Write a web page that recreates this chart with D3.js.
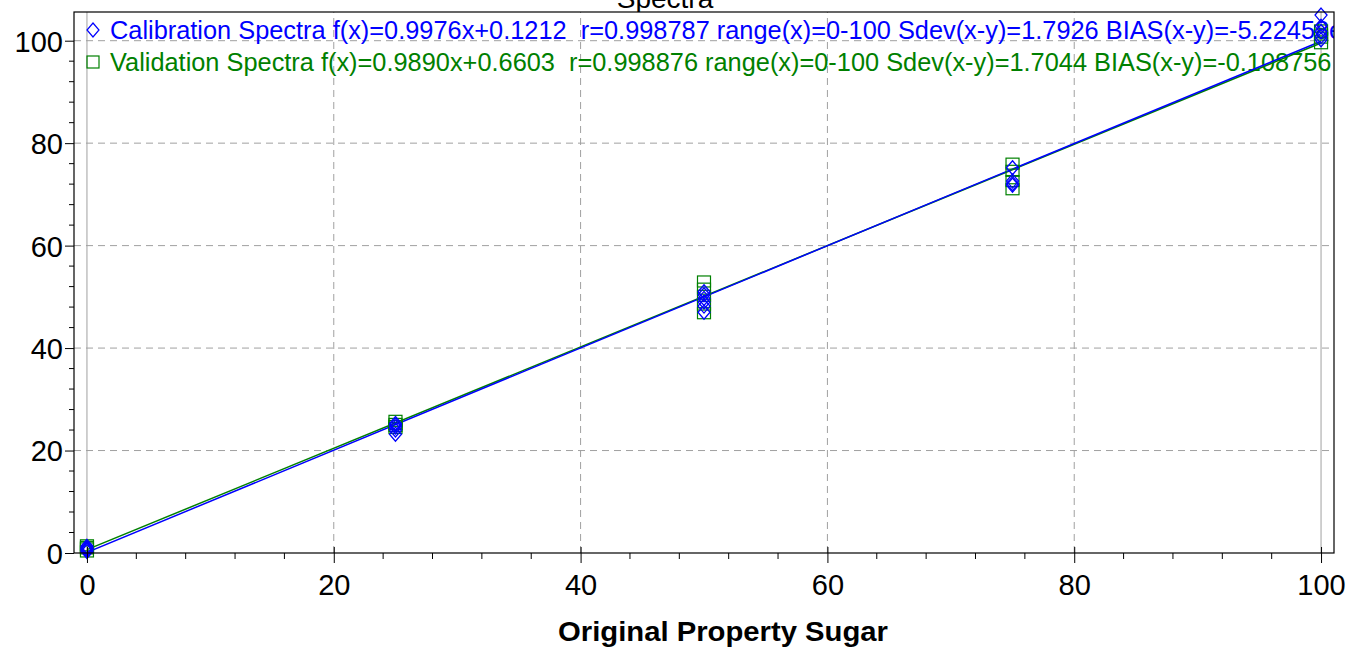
<!DOCTYPE html>
<html>
<head>
<meta charset="utf-8">
<script src="https://cdn.jsdelivr.net/npm/d3@7"></script>
<style>
  html, body { margin: 0; padding: 0; background: #fff; }
  svg { display: block; font-family: "Liberation Sans", Arial, sans-serif; }
  .ltext text { white-space: pre; }
</style>
</head>
<body>
<div id="chart"></div>
<script>
// reference levels (x) and the predicted values
const levels = [0, 25, 50, 75, 100];
const calibY = [
  [0.3, 0.7, 1.0, 1.3, 0.6, 0.9],
  [23.2, 24.0, 24.6, 25.0, 25.3],
  [47.0, 48.2, 49.0, 49.7, 50.4, 51.0],
  [75.2, 72.6, 71.8, 72.1],
  [105.0, 102.8, 101.8, 100.8, 100.2]
];
const validY = [
  [1.5, 0.9, 0.3, 1.2],
  [25.8, 25.2, 24.8, 24.4],
  [53.0, 51.6, 50.2, 48.5, 46.8],
  [76.0, 74.6, 71.0, 72.6],
  [102.0, 100.6, 99.5, 101.2]
];
const fits = [
  { name: "Calibration Spectra", slope: 0.9976, icept: 0.1212, color: "#0000ff",
    stats: "f(x)=0.9976x+0.1212  r=0.998787 range(x)=0-100 Sdev(x-y)=1.7926 BIAS(x-y)=-5.22458e-015", shape: "diamond" },
  { name: "Validation Spectra", slope: 0.9890, icept: 0.6603, color: "#008000",
    stats: "f(x)=0.9890x+0.6603  r=0.998876 range(x)=0-100 Sdev(x-y)=1.7044 BIAS(x-y)=-0.108756", shape: "square" }
];
const majorTicks = [0, 20, 40, 60, 80, 100];
const title = "Spectra";
const xTitle = "Original Property Sugar";

const width = 1349, height = 648;
const margin = { top: 12, right: 15, bottom: 95, left: 74 };

const svg = d3.select("#chart").append("svg")
  .attr("width", width).attr("height", height)
  .attr("viewBox", [0, 0, width, height]);

const x = d3.scaleLinear().domain([-1.05, 101.05]).range([margin.left, width - margin.right]);
const y = d3.scaleLinear().domain([0, 105.6]).range([height - margin.bottom, margin.top]);

const x0 = margin.left, x1 = width - margin.right, y0 = height - margin.bottom, y1 = margin.top;

// title, mostly cut off at the top (as in the source image)
svg.append("text")
  .attr("x", 665).attr("y", 8)
  .attr("text-anchor", "middle")
  .style("font-size", "28px")
  .attr("fill", "#000")
  .text(title);

svg.append("defs").append("clipPath").attr("id", "plotclip")
  .append("rect").attr("x", x0).attr("y", y1).attr("width", x1 - x0).attr("height", y0 - y1);

svg.append("rect").attr("x", x0).attr("y", y1).attr("width", x1 - x0).attr("height", y0 - y1)
  .attr("fill", "#fff");

// grid
const grid = svg.append("g");
grid.selectAll("line.v").data(majorTicks).join("line")
  .attr("x1", d => x(d)).attr("x2", d => x(d))
  .attr("y1", y0).attr("y2", y1)
  .attr("stroke", "#a0a0a0").attr("stroke-width", 1)
  .attr("stroke-dasharray", d => (d === 0 || d === 100) ? null : "7,5");
grid.selectAll("line.h").data(majorTicks.filter(d => d > 0)).join("line")
  .attr("x1", x0).attr("x2", x1)
  .attr("y1", d => y(d)).attr("y2", d => y(d))
  .attr("stroke", "#a0a0a0").attr("stroke-width", 1)
  .attr("stroke-dasharray", "7,5");

const plot = svg.append("g").attr("clip-path", "url(#plotclip)");

// legend text
const legend = plot.append("g");
fits.forEach((f, i) => {
  const ly = 30 + i * 32;
  const t = legend.append("g").attr("class", "ltext").attr("transform", `translate(110,${ly + 9})`);
  const txt = t.append("text").attr("x", 0).attr("y", 0)
    .style("font-size", "25px").attr("fill", f.color);
  txt.append("tspan").text(f.name + " ");
  txt.append("tspan").text(f.stats);
  if (f.shape === "diamond") {
    legend.append("path").attr("d", `M${93},${ly - 7}L${99},${ly}L${93},${ly + 7}L${87},${ly}Z`)
      .attr("fill", "none").attr("stroke", f.color).attr("stroke-width", 1.2);
  } else {
    legend.append("rect").attr("x", 87).attr("y", ly - 6).attr("width", 12).attr("height", 12)
      .attr("fill", "none").attr("stroke", f.color).attr("stroke-width", 1.2);
  }
});
// squeeze legend lines so the validation line ends where the picture does
const natural = legend.selectAll("g.ltext").nodes()[1].getBBox().width;
const sx = 1222 / natural;
legend.selectAll("g.ltext").each(function () {
  const tr = d3.select(this).attr("transform");
  d3.select(this).attr("transform", tr + ` scale(${sx},1)`);
});

// fitted lines
const lineGen = d3.line().x(d => x(d[0])).y(d => y(d[1]));
fits.slice().reverse().forEach(f => {
  plot.append("path")
    .datum([0, 100].map(v => [v, f.slope * v + f.icept]))
    .attr("d", lineGen)
    .attr("fill", "none").attr("stroke", f.color).attr("stroke-width", 1.5);
});

// points
const validPts = levels.flatMap((lv, i) => validY[i].map(v => [lv, v]));
const calibPts = levels.flatMap((lv, i) => calibY[i].map(v => [lv, v]));

svg.append("g").selectAll("rect").data(validPts).join("rect")
  .attr("x", d => x(d[0]) - 6.5).attr("y", d => y(d[1]) - 5.5)
  .attr("width", 13).attr("height", 11)
  .attr("fill", "none").attr("stroke", "#008000").attr("stroke-width", 1.2);

svg.append("g").selectAll("path").data(calibPts).join("path")
  .attr("d", d => {
    const cx = x(d[0]), cy = y(d[1]);
    return `M${cx},${cy - 7}L${cx + 6},${cy}L${cx},${cy + 7}L${cx - 6},${cy}Z`;
  })
  .attr("fill", "none").attr("stroke", "#0000ff").attr("stroke-width", 1.3);

// frame
svg.append("rect").attr("x", x0).attr("y", y1).attr("width", x1 - x0).attr("height", y0 - y1)
  .attr("fill", "none").attr("stroke", "#000").attr("stroke-width", 1.2);

// axes
const minor = d3.range(0, 101, 4);
const xAxis = svg.append("g").attr("transform", `translate(0,${y0})`);
xAxis.call(d3.axisBottom(x).tickValues(majorTicks).tickSize(10).tickSizeOuter(0).tickFormat(d3.format("d")))
  .call(g => g.select(".domain").remove())
  .call(g => g.selectAll(".tick line").attr("y1", -6).attr("stroke", "#000"))
  .call(g => g.selectAll(".tick text").attr("dy", null).attr("y", 42)
    .style("font-size", "29px").style("font-family", "Liberation Sans, Arial, sans-serif").attr("fill", "#000"));
xAxis.selectAll("line.minor").data(minor.filter(d => d % 20 !== 0)).join("line")
  .attr("x1", d => x(d)).attr("x2", d => x(d)).attr("y1", 0).attr("y2", 6)
  .attr("stroke", "#000");

const yAxis = svg.append("g").attr("transform", `translate(${x0},0)`);
yAxis.call(d3.axisLeft(y).tickValues(majorTicks).tickSize(9).tickSizeOuter(0).tickFormat(d3.format("d")))
  .call(g => g.select(".domain").remove())
  .call(g => g.selectAll(".tick line").attr("stroke", "#000"))
  .call(g => g.selectAll(".tick text").attr("x", -11).attr("dy", "0.36em")
    .style("font-size", "29px").style("font-family", "Liberation Sans, Arial, sans-serif").attr("fill", "#000"));
yAxis.selectAll("line.minor").data(minor.filter(d => d % 20 !== 0)).join("line")
  .attr("y1", d => y(d)).attr("y2", d => y(d)).attr("x1", 0).attr("x2", -5)
  .attr("stroke", "#000");

// axis title
svg.append("text")
  .attr("x", 723).attr("y", 641)
  .attr("text-anchor", "middle")
  .attr("textLength", 330).attr("lengthAdjust", "spacingAndGlyphs")
  .style("font-size", "28px").style("font-weight", "bold")
  .attr("fill", "#000")
  .text(xTitle);
</script>
</body>
</html>
